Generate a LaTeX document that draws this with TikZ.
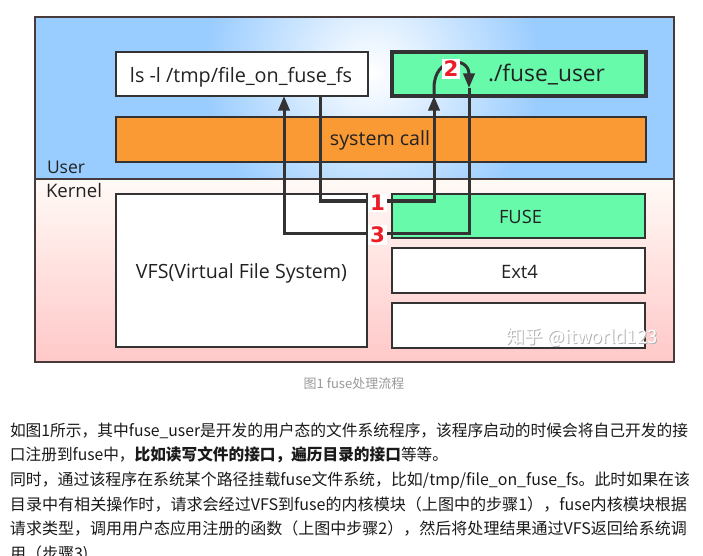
\documentclass[tikz,border=0pt]{standalone}
\usepackage{fontspec}
\usepackage{graphicx}
\setmainfont{Open Sans}
\newfontfamily\cjk{Noto Sans CJK SC}
\newfontfamily\numfont{DejaVu Sans}
\usetikzlibrary{arrows.meta}
\definecolor{userblue}{RGB}{153,204,255}
\definecolor{pinkbot}{RGB}{255,200,200}
\definecolor{pinktop}{RGB}{255,250,246}
\definecolor{mint}{RGB}{102,250,170}
\definecolor{orng}{RGB}{250,154,52}
\definecolor{ink}{RGB}{51,51,51}
\definecolor{framec}{RGB}{70,58,58}
\definecolor{stepred}{RGB}{235,30,40}
\definecolor{capgray}{RGB}{153,153,153}
\definecolor{bodytext}{RGB}{26,26,26}
\definecolor{labelink}{RGB}{34,34,34}
\newcommand{\fitw}[2]{\resizebox{#1}{!}{#2}}
\newcommand{\fith}[2]{\resizebox{#1}{\height}{#2}}
\begin{document}
\begin{tikzpicture}[x=0.75pt,y=-0.75pt,
  every node/.style={inner sep=0pt,outer sep=0pt},
  boxbase/.style={draw=ink,line width=1.5pt},
  whitebox/.style={boxbase,fill=white},
  mintbox/.style={boxbase,fill=mint},
  conn/.style={draw=ink,line width=2.25pt,line join=miter},
  arrowed/.style={conn,-{Triangle[length=11pt,width=8.5pt]}},
  steplabel/.style={fill=white,text=stepred,font=\numfont\bfseries\fontsize{16}{16}\selectfont,inner sep=1.2pt},
  lbl/.style={anchor=base,text=labelink,font=\fontsize{12}{14}\selectfont},
  bodyline/.style={anchor=base west,text=bodytext,font=\cjk\fontsize{12}{14}\selectfont}]
\useasboundingbox (0,0) rectangle (703,556);
\clip (0,0) rectangle (703,556);
\fill[white] (0,0) rectangle (703,556);
% user area
\fill[userblue] (35,17) rectangle (674,179);
\begin{scope}
  \clip (35,17) rectangle (674,179);
  \shade[inner color=white,outer color=userblue] (372,72) circle (170);
\end{scope}
% kernel area
\shade[top color=pinktop,bottom color=pinkbot] (35,179) rectangle (674,362);
\draw[draw=framec,line width=1.5pt] (35,17) rectangle (674,362);
\draw[draw=framec,line width=1.5pt] (35,179) -- (674,179);
% boxes
\node[whitebox,minimum width=189pt,minimum height=33pt] (ls) at (242,74) {};
\node[mintbox,line width=2.6pt,minimum width=190.5pt,minimum height=33pt] (fu) at (519,74) {};
\node[boxbase,fill=orng,line width=1.2pt,minimum width=397.5pt,minimum height=33.75pt] (sys) at (381,139.5) {};
\node[whitebox,minimum width=188.25pt,minimum height=114.75pt] (vfs) at (241.5,270.5) {};
\node[mintbox,minimum width=189.75pt,minimum height=33pt] (fuse) at (518.5,216) {};
\node[whitebox,minimum width=189.75pt,minimum height=33.75pt] (ext) at (518.5,270.5) {};
\node[whitebox,minimum width=189.75pt,minimum height=33.75pt] (emp) at (518.5,325.5) {};
% texts in boxes
\node[lbl] (tls) at (241,83) {\fitw{166.5pt}{ls -l /tmp/file\_on\_fuse\_fs}};
\node[lbl] (tfu) at (546.5,82) {\fitw{87.75pt}{./fuse\_user}};
\node[lbl] (tsys) at (380,146) {\fitw{75pt}{system call}};
\node[lbl] (tuser) at (66,174) {\fitw{28.5pt}{User}};
\node[lbl] (tkern) at (74,198) {\fitw{42pt}{Kernel}};
\node[lbl] (tvfs) at (241.5,278) {\fitw{158.25pt}{VFS(Virtual File System)}};
\node[lbl] (tfuse) at (520.5,223) {\fitw{32.25pt}{FUSE}};
\node[lbl] (text4) at (519.5,278) {\fitw{27.75pt}{Ext4}};
% connector coordinates
\coordinate (a1) at (320,201);
\coordinate (a2) at (434,201);
\coordinate (arcL) at (434,88);
\coordinate (arcR) at (469,88);
\coordinate (b1) at (469,233);
\coordinate (b2) at (284,233);
% step 1
\draw[arrowed] (ls.south -| a1) -- (a1) -- (a2) -- (fu.south -| a2);
% step 2
\draw[arrowed] (fu.south -| a2) -- (arcL) .. controls (434,56) and (469,56) .. (arcR);
% step 3
\draw[arrowed] (arcR) -- (b1) -- (b2) -- (ls.south -| b2);
% step labels
\node[steplabel] (s1) at (377.5,203) {1};
\node[steplabel] (s3) at (377.5,235) {3};
\node[steplabel] (s2) at (451,69) {2};
% watermark
\node[anchor=base,text=black!30] at (583,344) {\cjk\fitw{113.25pt}{知乎 @itworld123}};
\node[anchor=base,text=white] (wm) at (582,343) {\cjk\fitw{113.25pt}{知乎 @itworld123}};
% caption
\node[anchor=base,text=capgray,font=\cjk\fontsize{9.75}{12}\selectfont] (cap) at (354,388) {图1 fuse处理流程};
% body text
\node[bodyline] (l1) at (10,436) {\fith{508.5pt}{如图1所示，其中fuse\_user是开发的用户态的文件系统程序，该程序启动的时候会将自己开发的接}};
\node[bodyline] (l2) at (10,460.5) {\fith{328.5pt}{口注册到fuse中，\textbf{比如读写文件的接口，遍历目录的接口}等等。}};
\node[bodyline] (l3) at (10,485.5) {\fith{510pt}{同时，通过该程序在系统某个路径挂载fuse文件系统，比如/tmp/file\_on\_fuse\_fs。此时如果在该}};
\node[bodyline] (l4) at (10,510) {\fith{507.75pt}{目录中有相关操作时，请求会经过VFS到fuse的内核模块（上图中的步骤1），fuse内核模块根据}};
\node[bodyline] (l5) at (10,534.5) {\fith{507.75pt}{请求类型，调用用户态应用注册的函数（上图中步骤2），然后将处理结果通过VFS返回给系统调}};
\node[bodyline] (l6) at (10,559) {用（步骤3)};
\end{tikzpicture}
\end{document}
